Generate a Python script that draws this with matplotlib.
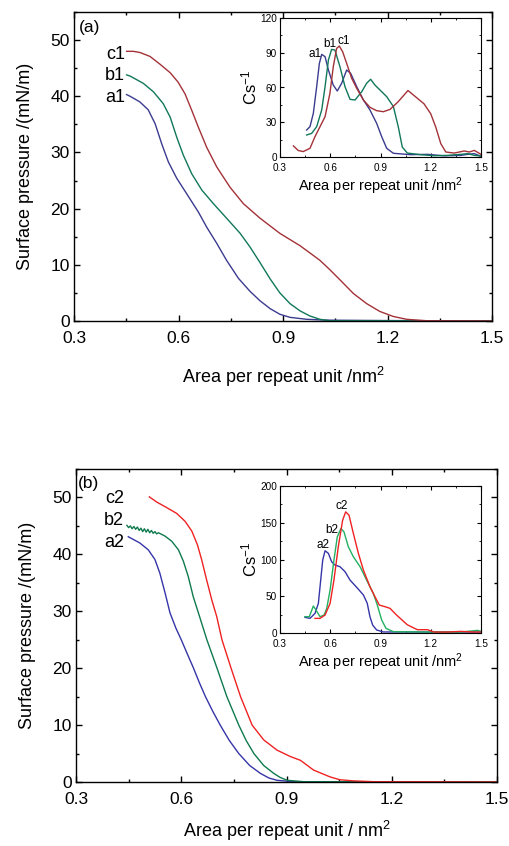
import matplotlib
matplotlib.use("Agg")
import matplotlib.pyplot as plt
from matplotlib.ticker import MultipleLocator

plt.rcParams['font.family'] = ['Liberation Sans', 'DejaVu Sans']
plt.rcParams['mathtext.fontset'] = 'custom'
plt.rcParams['mathtext.rm'] = 'Liberation Sans'
plt.rcParams['mathtext.it'] = 'Liberation Sans:italic'

# ---------------- Panel (a) isotherms ----------------
a1_x = [0.451, 0.461, 0.489, 0.513, 0.533, 0.552, 0.571, 0.595, 0.624, 0.657, 0.681, 0.710, 0.738, 0.772,
        0.805, 0.834, 0.863, 0.891, 0.920, 0.968, 1.025, 1.20, 1.50]
a1_y = [40.3, 40.0, 39.0, 37.6, 35.1, 31.5, 28.3, 25.4, 22.6, 19.4, 16.7, 13.8, 10.8, 7.6,
        5.3, 3.6, 2.2, 1.2, 0.65, 0.3, 0.15, 0.08, 0.0]
b1_x = [0.451, 0.461, 0.499, 0.528, 0.556, 0.576, 0.595, 0.614, 0.638, 0.667, 0.700, 0.738, 0.777, 0.805,
        0.834, 0.863, 0.891, 0.920, 0.949, 0.977, 1.006, 1.035, 1.50]
b1_y = [43.8, 43.6, 42.3, 40.8, 38.7, 36.3, 32.7, 29.5, 26.2, 23.3, 20.9, 18.3, 15.6, 13.2,
        10.4, 7.5, 5.0, 3.1, 1.8, 0.9, 0.3, 0.05, 0.0]
c1_x = [0.451, 0.470, 0.489, 0.518, 0.547, 0.576, 0.599, 0.619, 0.638, 0.657, 0.681, 0.710, 0.748, 0.786,
        0.834, 0.891, 0.949, 1.006, 1.035, 1.064, 1.102, 1.140, 1.178, 1.217, 1.255, 1.312, 1.50]
c1_y = [48.0, 48.0, 47.8, 47.1, 45.7, 44.2, 42.5, 40.4, 37.5, 34.5, 30.9, 27.4, 23.8, 20.9,
        18.3, 15.6, 13.4, 10.8, 9.1, 7.3, 4.9, 3.1, 1.7, 0.8, 0.3, 0.05, 0.0]

# ---------------- Panel (a) inset: compressibility modulus ----------------
ia1_x = [0.459, 0.479, 0.499, 0.519, 0.535, 0.549, 0.569, 0.589, 0.618, 0.642, 0.668, 0.698, 0.722, 0.758,
         0.798, 0.837, 0.877, 0.907, 0.937, 0.977, 1.08, 1.18, 1.28, 1.38, 1.42, 1.46, 1.50]
ia1_y = [23.3, 26.2, 37.7, 60.7, 80.8, 88.6, 86.6, 75.1, 62.1, 57.0, 63.6, 75.1, 72.2, 60.7,
         49.2, 40.6, 29.1, 17.6, 7.5, 3.2, 2.0, 2.3, 1.0, 1.4, 2.3, 2.9, 0.6]
ib1_x = [0.459, 0.489, 0.519, 0.549, 0.569, 0.589, 0.608, 0.628, 0.658, 0.688, 0.718, 0.748, 0.788, 0.817,
         0.841, 0.867, 0.897, 0.937, 0.977, 1.006, 1.03, 1.06, 1.14, 1.22, 1.30, 1.38, 1.42, 1.46, 1.50]
ib1_y = [19.0, 20.4, 26.2, 40.6, 60.7, 83.7, 92.9, 92.3, 77.9, 60.7, 49.8, 49.2, 56.4, 63.6,
         67.1, 62.1, 57.8, 52.1, 43.5, 26.2, 8.6, 3.4, 2.0, 1.1, 1.4, 2.3, 2.9, 1.4, 0.9]
ic1_x = [0.38, 0.409, 0.439, 0.479, 0.509, 0.539, 0.569, 0.598, 0.618, 0.638, 0.654, 0.674, 0.698, 0.728,
         0.758, 0.798, 0.837, 0.877, 0.917, 0.957, 1.006, 1.064, 1.10, 1.16, 1.20, 1.23, 1.26, 1.29,
         1.34, 1.40, 1.43, 1.46, 1.50]
ic1_y = [9.6, 5.6, 4.7, 7.5, 17.6, 26.2, 34.8, 54.9, 77.9, 93.7, 95.8, 90.9, 80.8, 67.9,
         59.3, 49.2, 42.9, 40.0, 39.1, 41.1, 47.8, 57.4, 53.1, 45.9, 37.3, 25.8, 11.5, 4.3,
         3.4, 5.2, 4.3, 5.7, 2.3]

# ---------------- Panel (b) isotherms ----------------
a2_x = [0.449, 0.482, 0.506, 0.525, 0.539, 0.554, 0.568, 0.585, 0.600, 0.618, 0.635, 0.652, 0.669, 0.690,
        0.711, 0.737, 0.764, 0.795, 0.826, 0.850, 0.873, 0.920, 1.50]
a2_y = [43.1, 42.0, 40.8, 39.1, 36.7, 33.2, 29.7, 27.0, 25.0, 22.4, 20.0, 17.4, 15.0, 12.4,
        10.0, 7.3, 5.0, 2.9, 1.5, 0.7, 0.3, 0.05, 0.0]
b2_x = [0.445, 0.450, 0.455, 0.460, 0.465, 0.470, 0.475, 0.480, 0.485, 0.490, 0.495, 0.500, 0.505, 0.510,
        0.515, 0.520, 0.525, 0.530, 0.535, 0.554, 0.573, 0.592, 0.606, 0.620, 0.634, 0.649, 0.673, 0.702,
        0.730, 0.764, 0.785, 0.807, 0.835, 0.864, 0.882, 0.902, 0.950, 1.50]
b2_y = [45.1, 44.7, 45.0, 44.5, 44.9, 44.4, 44.8, 44.2, 44.6, 44.0, 44.5, 43.9, 44.4, 43.8,
        44.2, 43.7, 44.0, 43.6, 43.8, 43.2, 42.3, 40.8, 38.8, 36.1, 32.6, 29.7, 25.0, 20.0,
        15.0, 10.0, 7.3, 5.0, 2.9, 1.5, 0.8, 0.3, 0.05, 0.0]
c2_x = [0.509, 0.530, 0.559, 0.587, 0.611, 0.630, 0.646, 0.658, 0.672, 0.687, 0.701, 0.716, 0.742, 0.769,
        0.802, 0.835, 0.873, 0.910, 0.940, 0.977, 1.024, 1.052, 1.090, 1.150, 1.50]
c2_y = [50.1, 49.2, 48.2, 47.2, 45.8, 44.1, 41.7, 39.1, 35.6, 32.0, 29.1, 25.0, 20.0, 15.0,
        10.0, 7.4, 5.6, 4.5, 3.8, 2.1, 0.9, 0.4, 0.2, 0.05, 0.0]

# ---------------- Panel (b) inset ----------------
ia2_x = [0.449, 0.479, 0.509, 0.529, 0.543, 0.555, 0.569, 0.589, 0.608, 0.628, 0.658, 0.688, 0.718, 0.758,
         0.798, 0.821, 0.837, 0.853, 0.877, 0.917, 1.18, 1.38, 1.50]
ia2_y = [21.3, 19.9, 26.7, 40.3, 72.0, 99.2, 111.9, 108.3, 97.0, 92.5, 90.2, 83.5, 72.0, 62.1,
         51.7, 40.3, 22.2, 10.9, 4.1, 1.4, 1.3, 1.3, 1.3]
ib2_x = [0.449, 0.475, 0.499, 0.515, 0.539, 0.563, 0.579, 0.599, 0.622, 0.642, 0.664, 0.682, 0.708, 0.738,
         0.778, 0.817, 0.857, 0.881, 0.907, 0.933, 0.977, 1.18, 1.38, 1.48, 1.50]
ib2_y = [22.2, 22.2, 36.7, 31.2, 22.2, 24.4, 33.5, 58.4, 99.2, 130.8, 142.2, 137.6, 117.3, 103.7,
         90.2, 72.0, 53.9, 38.0, 17.7, 6.3, 1.8, 1.3, 1.3, 3.6, 2.2]
ic2_x = [0.509, 0.539, 0.569, 0.599, 0.622, 0.648, 0.674, 0.692, 0.712, 0.738, 0.768, 0.798, 0.837, 0.867,
         0.893, 0.927, 0.957, 0.996, 1.06, 1.12, 1.18, 1.22, 1.30, 1.38, 1.46, 1.50]
ic2_y = [19.9, 19.9, 24.4, 40.3, 72.0, 117.3, 153.5, 164.8, 160.3, 135.4, 108.3, 85.6, 63.0, 49.4,
         38.0, 35.8, 33.5, 24.4, 11.2, 4.5, 4.5, 1.3, 1.3, 2.2, 1.3, 1.3]

blue_a, green_a, red_a = '#3b3b8f', '#11775a', '#a33238'
blue_b, green_b, red_b = '#3535a8', '#0f7a4e', '#ee2222'
green_bi = '#22b060'

W, H = 509, 846
fig = plt.figure(figsize=(W / 100, H / 100), dpi=100)


def main_axes(rect, label, xpad):
    ax = fig.add_axes(rect)
    ax.set_xlim(0.3, 1.5)
    ax.set_ylim(0, 55)
    ax.set_xticks([0.3, 0.6, 0.9, 1.2, 1.5])
    ax.set_xticklabels(['0.3', '0.6', '0.9', '1.2', '1.5'])
    ax.xaxis.set_minor_locator(MultipleLocator(0.15))
    ax.set_yticks([0, 10, 20, 30, 40, 50])
    ax.yaxis.set_minor_locator(MultipleLocator(5))
    for s in ax.spines.values():
        s.set_linewidth(1.0)
    ax.tick_params(which='both', direction='in', top=True, right=True, width=1.0)
    ax.tick_params(which='major', length=4, labelsize=12.5)
    ax.tick_params(which='minor', length=2.5)
    ax.tick_params(axis='x', which='major', pad=7)
    ax.tick_params(axis='y', which='major', pad=3)
    ax.set_ylabel('Surface pressure /(mN/m)', fontsize=13, labelpad=12)
    ax.set_xlabel(label, fontsize=13, labelpad=xpad)
    return ax


def inset_axes(rect, ymax, ystep):
    ax = fig.add_axes(rect)
    ax.set_xlim(0.3, 1.5)
    ax.set_ylim(0, ymax)
    ax.set_xticks([0.3, 0.6, 0.9, 1.2, 1.5])
    ax.set_xticklabels(['0.3', '0.6', '0.9', '1.2', '1.5'])
    ax.xaxis.set_minor_locator(MultipleLocator(0.15))
    ax.yaxis.set_major_locator(MultipleLocator(ystep))
    ax.yaxis.set_minor_locator(MultipleLocator(ystep / 2))
    ax.tick_params(which='both', direction='in', top=True, right=True, labelsize=7.2)
    ax.tick_params(which='major', length=3)
    ax.tick_params(which='minor', length=1.5)
    ax.tick_params(axis='x', which='major', pad=4)
    ax.tick_params(axis='y', which='major', pad=2)
    ax.set_xlabel('Area per repeat unit /nm$^{\\mathregular{2}}$', fontsize=10.5, labelpad=2)
    ax.set_ylabel('Cs$^{\\mathregular{-1}}$', fontsize=12, labelpad=1)
    return ax


# ---- Panel (a) ----
axa = main_axes([74 / W, 1 - 321 / H, 418 / W, 309 / H], 'Area per repeat unit /nm$^{\\mathregular{2}}$', 14)
axa.plot(a1_x, a1_y, color=blue_a, lw=1)
axa.plot(b1_x, b1_y, color=green_a, lw=1)
axa.plot(c1_x, c1_y, color=red_a, lw=1)
axa.text(0.447, 47.5, 'c1', fontsize=13, ha='right', va='center')
axa.text(0.447, 43.7, 'b1', fontsize=13, ha='right', va='center')
axa.text(0.447, 39.8, 'a1', fontsize=13, ha='right', va='center')
axa.text(0.315, 52.2, '(a)', fontsize=12.5, ha='left', va='center')

ina = inset_axes([280 / W, 1 - 157 / H, 201 / W, 139 / H], 120, 30)
ina.plot(ia1_x, ia1_y, color=blue_a, lw=1)
ina.plot(ib1_x, ib1_y, color=green_a, lw=1)
ina.plot(ic1_x, ic1_y, color=red_a, lw=1)
ina.text(0.507, 88.6, 'a1', fontsize=8.5, ha='center', va='center')
ina.text(0.595, 97.2, 'b1', fontsize=8.5, ha='center', va='center')
ina.text(0.678, 100.1, 'c1', fontsize=8.5, ha='center', va='center')

# ---- Panel (b) ----
axb = main_axes([76 / W, 1 - 782 / H, 421 / W, 313 / H], 'Area per repeat unit / nm$^{\\mathregular{2}}$', 9)
axb.plot(a2_x, a2_y, color=blue_b, lw=1)
axb.plot(b2_x, b2_y, color=green_b, lw=1)
axb.plot(c2_x, c2_y, color=red_b, lw=1)
axb.text(0.437, 49.8, 'c2', fontsize=13, ha='right', va='center')
axb.text(0.437, 46.0, 'b2', fontsize=13, ha='right', va='center')
axb.text(0.437, 42.0, 'a2', fontsize=13, ha='right', va='center')
axb.text(0.305, 52.4, '(b)', fontsize=12.5, ha='left', va='center')

inb = inset_axes([280 / W, 1 - 633 / H, 201 / W, 147 / H], 200, 50)
inb.plot(ia2_x, ia2_y, color=blue_b, lw=1)
inb.plot(ib2_x, ib2_y, color=green_bi, lw=1)
inb.plot(ic2_x, ic2_y, color=red_b, lw=1)
inb.text(0.555, 119.5, 'a2', fontsize=8.5, ha='center', va='center')
inb.text(0.608, 140.8, 'b2', fontsize=8.5, ha='center', va='center')
inb.text(0.668, 172.5, 'c2', fontsize=8.5, ha='center', va='center')

fig.savefig('out.png', dpi=100)
